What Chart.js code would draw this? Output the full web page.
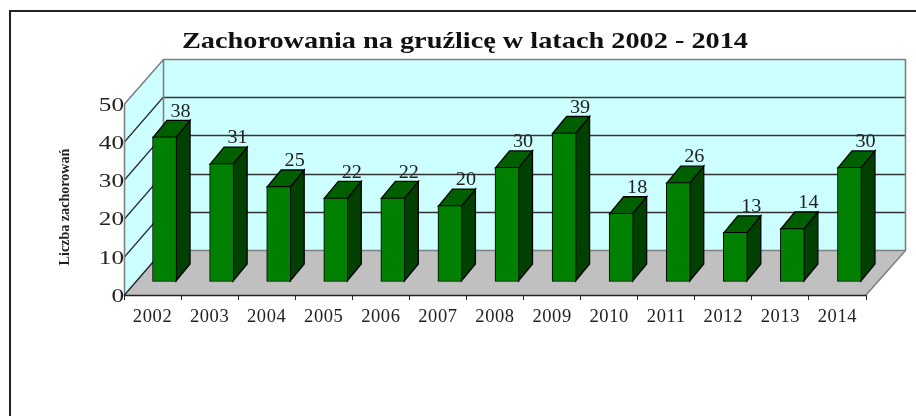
<!DOCTYPE html>
<html><head><meta charset="utf-8">
<style>html,body{margin:0;padding:0;background:#fff}canvas{display:block}#f{position:absolute;left:9px;top:10px;width:907px;height:406px;border-left:2px solid #222;border-top:2px solid #222;box-sizing:border-box;pointer-events:none}</style>
<script src="https://cdn.jsdelivr.net/npm/chart.js@4"></script>
</head><body>
<canvas id="c" width="916" height="416"></canvas>
<div id="f"></div>
<script>
const titleText = "Zachorowania na gruźlicę w latach 2002 - 2014";
const yAxisTitle = "Liczba zachorowań";
const years = ["2002","2003","2004","2005","2006","2007","2008","2009","2010","2011","2012","2013","2014"];
const cases = [38,31,25,22,22,20,30,39,18,26,13,14,30];

const SERIF = '"Liberation Serif", serif';
const WALL = {dx:39, dy:45};       // depth of the 3D box
const BAR = {ox:12, oy:13, dx:14, dy:17};  // bar offset in box, bar depth

function poly(ctx, pts, fill, stroke, lw){
  ctx.beginPath();
  pts.forEach((p,i)=> i?ctx.lineTo(p[0],p[1]):ctx.moveTo(p[0],p[1]));
  ctx.closePath();
  if(fill){ctx.fillStyle=fill;ctx.fill();}
  if(stroke){ctx.strokeStyle=stroke;ctx.lineWidth=lw||1;ctx.stroke();}
}
// run a library draw method with stretched text (the reference's glyphs are wide)
function styled(obj, method, ctx, o){
  if(obj['_w'+method]) return;
  const orig=obj[method];
  obj['_w'+method]=true;
  obj[method]=function(...a){
    ctx.save();
    if(o.px) ctx.letterSpacing=o.px+'px';
    ctx.translate(o.cx||0,o.nudge||0);
    ctx.scale(o.sx||1,1);
    ctx.translate(-(o.cx||0),0);
    orig.apply(this,a);
    ctx.restore();
  };
}
const box3d = {
  id:'box3d',
  afterLayout(chart){
    const ctx=chart.ctx;
    styled(chart.titleBlock,'draw',ctx,{sx:1.23,cx:465});
    styled(chart.scales.x,'drawLabels',ctx,{px:0.6});
    styled(chart.scales.y,'drawLabels',ctx,{sx:1.4,cx:chart.chartArea.left,nudge:2});
  },
  beforeDatasetsDraw(chart){
    const ctx=chart.ctx, {left:l,right:r,top:t,bottom:b}=chart.chartArea;
    const y=chart.scales.y, {dx,dy}=WALL;
    ctx.save();
    // walls and floor
    poly(ctx,[[l,b],[l,t],[l+dx,t-dy],[l+dx,b-dy]],'#CCFFFF');
    poly(ctx,[[l+dx,t-dy],[r+dx,t-dy],[r+dx,b-dy],[l+dx,b-dy]],'#CCFFFF');
    poly(ctx,[[l,b],[r,b],[r+dx,b-dy],[l+dx,b-dy]],'#C0C0C0');
    // gridlines
    ctx.strokeStyle='#333';ctx.lineWidth=1.3;
    y.ticks.forEach(tk=>{
      if(tk.value===0||tk.value===50) return;
      const p=Math.round(y.getPixelForValue(tk.value))+.5;
      ctx.beginPath();
      ctx.moveTo(l,p);ctx.lineTo(l+dx,p-dy);ctx.lineTo(r+dx,p-dy);
      ctx.stroke();
    });
    // wall edges
    ctx.strokeStyle='#808080';ctx.lineWidth=1.6;
    ctx.beginPath();
    ctx.moveTo(l+.5,b);ctx.lineTo(l+.5,t);ctx.lineTo(l+dx+.5,t-dy+.5);ctx.lineTo(r+dx+.5,t-dy+.5);
    ctx.lineTo(r+dx+.5,b-dy+.5);ctx.lineTo(r,b);
    ctx.moveTo(l+dx+.5,t-dy);ctx.lineTo(l+dx+.5,b-dy);
    ctx.moveTo(l+dx,b-dy+.5);ctx.lineTo(r+dx,b-dy+.5);
    ctx.stroke();
    ctx.strokeStyle='#222';ctx.lineWidth=1.3;
    ctx.beginPath();ctx.moveTo(l,b+.5);ctx.lineTo(l+dx,b-dy+.5);ctx.stroke();
    ctx.beginPath();ctx.moveTo(l,b+.5);ctx.lineTo(r,b+.5);ctx.stroke();

    // value labels sit behind the bars
    const meta=chart.getDatasetMeta(0);
    ctx.font='18px '+SERIF;ctx.fillStyle='#222';
    ctx.textAlign='center';ctx.textBaseline='middle';
    meta.data.forEach((el,i)=>{
      ctx.save();
      ctx.translate(el.x+BAR.ox+16, el.y-BAR.oy-BAR.dy-8);
      ctx.scale(1.12,1);
      ctx.fillText(String(cases[i]),0,0);
      ctx.restore();
    });

    // side and top faces
    meta.data.forEach(el=>{
      const x0=el.x-el.width/2+BAR.ox+.5, x1=el.x+el.width/2+BAR.ox-.5;
      const yt=el.y-BAR.oy+.5, yb=el.base-BAR.oy-.5;
      poly(ctx,[[x1,yt],[x1+BAR.dx,yt-BAR.dy],[x1+BAR.dx,yb-BAR.dy],[x1,yb]],'#004000','#000',1.3);
      poly(ctx,[[x0,yt],[x0+BAR.dx,yt-BAR.dy],[x1+BAR.dx,yt-BAR.dy],[x1,yt]],'#006000','#000',1.3);
    });
    ctx.restore();
    // front faces: library bars, pushed into the box
    ctx.save();
    ctx.translate(BAR.ox,-BAR.oy);
  },
  afterDatasetsDraw(chart){
    chart.ctx.restore();
    const ctx=chart.ctx;
    ctx.save();
    ctx.translate(65,207);ctx.rotate(-Math.PI/2);ctx.scale(0.94,1);
    ctx.font='bold 15px '+SERIF;ctx.fillStyle='#222';
    ctx.textAlign='center';ctx.textBaseline='middle';
    ctx.fillText(yAxisTitle,0,0);
    ctx.restore();
  }
};

new Chart(document.getElementById('c'),{
  type:'bar',
  data:{labels:years,datasets:[{data:cases,backgroundColor:'#008000',borderColor:'#000',borderWidth:1,borderSkipped:false,barThickness:24}]},
  plugins:[box3d],
  options:{
    responsive:false,animation:false,
    layout:{padding:{left:64,right:50,top:0,bottom:0}},
    plugins:{
      legend:{display:false},tooltip:{enabled:false},
      title:{display:true,text:titleText,color:'#111',
        font:{family:SERIF,size:23,weight:'bold',lineHeight:1.2},
        padding:{top:28,bottom:48.4}}
    },
    scales:{
      x:{
        grid:{drawOnChartArea:false,drawTicks:true,tickLength:5,color:'#222',offset:true},
        border:{display:false},
        ticks:{color:'#222',font:{family:SERIF,size:18.5},padding:6,maxRotation:0,autoSkip:false},
        afterFit(s){s.height=121;}
      },
      y:{
        min:0,max:50,
        grid:{drawOnChartArea:false,drawTicks:false},
        border:{display:false},
        ticks:{color:'#222',stepSize:10,font:{family:SERIF,size:18},padding:0},
        afterFit(s){s.width=60;}
      }
    }
  }
});
</script>
</body></html>
